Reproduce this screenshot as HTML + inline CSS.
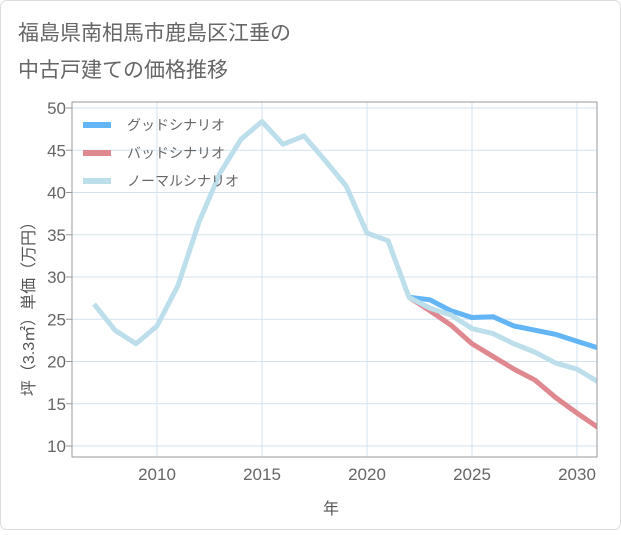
<!DOCTYPE html>
<html><head><meta charset="utf-8"><style>
body{margin:0;background:#fff;}
svg text{font-family:"Liberation Sans","Noto Sans CJK JP",sans-serif;}
</style></head><body>
<svg width="621" height="530" xmlns="http://www.w3.org/2000/svg">
<rect x="0.5" y="0.5" width="620" height="529" rx="6" fill="#fff" stroke="#ddd"/>
<text x="18" y="40" font-size="21" fill="#666">福島県南相馬市鹿島区江垂の</text>
<text x="18" y="77" font-size="21" fill="#666">中古戸建ての価格推移</text>
<g id="grid"></g>
<g id="series"></g>
<rect x="72" y="102" width="525" height="355" fill="none" stroke="#999"/>
<g id="ticks"></g>
<text x="331" y="514" font-size="16" fill="#555" text-anchor="middle">年</text>
<text transform="translate(34,305) rotate(-90)" font-size="16" fill="#555" text-anchor="middle">坪（3.3㎡）単価（万円）</text>
<g>
<line x1="83" y1="125" x2="111" y2="125" stroke="#64b5f6" stroke-width="6"/>
<text x="127" y="130" font-size="14" fill="#666">グッドシナリオ</text>
<line x1="83" y1="153" x2="111" y2="153" stroke="#e08890" stroke-width="6"/>
<text x="127" y="158" font-size="14" fill="#666">バッドシナリオ</text>
<line x1="83" y1="181" x2="111" y2="181" stroke="#bcdfeb" stroke-width="6"/>
<text x="127" y="186" font-size="14" fill="#666">ノーマルシナリオ</text>
</g>
</svg>
<script>
const normalYears=[2007,2008,2009,2010,2011,2012,2013,2014,2015,2016,2017,2018,2019,2020,2021,2022,2023,2024,2025,2026,2027,2028,2029,2030,2031];
const normalValues=[26.8,23.7,22.1,24.2,29,36.5,42.3,46.3,48.4,45.7,46.7,43.8,40.8,35.2,34.3,27.6,26.3,25.5,23.9,23.3,22.1,21.1,19.8,19.1,17.6];
const forecastYears=[2022,2023,2024,2025,2026,2027,2028,2029,2030,2031];
const goodValues=[27.6,27.3,26.0,25.2,25.3,24.2,23.7,23.2,22.4,21.6];
const badValues=[27.6,26.0,24.3,22.1,20.6,19.1,17.8,15.7,13.9,12.2];
const xTicks=[2010,2015,2020,2025,2030];
const yTicks=[10,15,20,25,30,35,40,45,50];
const NS="http://www.w3.org/2000/svg";
const xs=v=>157+(v-2010)*21;
const ys=v=>446-(v-10)*(338/40);
function mk(tag,attrs,parent){const e=document.createElementNS(NS,tag);for(const k in attrs)e.setAttribute(k,attrs[k]);parent.appendChild(e);return e;}
const grid=document.getElementById('grid'),ticks=document.getElementById('ticks'),ser=document.getElementById('series');
xTicks.forEach(t=>{const l=mk('line',{x1:xs(t),x2:xs(t),y1:102,y2:457,stroke:'#d3e3ee'},grid);


const tx=mk('text',{x:xs(t),y:480,'font-size':17,fill:'#666','text-anchor':'middle'},ticks);tx.textContent=t;

});
yTicks.forEach(t=>{const l=mk('line',{x1:72,x2:597,y1:ys(t),y2:ys(t),stroke:'#d3e3ee'},grid);


mk('line',{x1:66,x2:72,y1:ys(t),y2:ys(t),stroke:'#999'},ticks);
const tx=mk('text',{x:66,y:ys(t)+6,'font-size':17,fill:'#666','text-anchor':'end'},ticks);tx.textContent=t;

});
const clip=mk('clipPath',{id:'pc'},ser);mk('rect',{x:72,y:102,width:525,height:355},clip);
function line(xsA,vals,color,name){const p=mk('polyline',{points:xsA.map((x,i)=>xs(x)+','+ys(vals[i])).join(' '),fill:'none',stroke:color,'stroke-width':5,'stroke-linejoin':'round','clip-path':'url(#pc)'},ser);

}
line(forecastYears,goodValues,'#64b5f6','good-scenario-line');
line(forecastYears,badValues,'#e08890','bad-scenario-line');
line(normalYears,normalValues,'#bcdfeb','normal-scenario-line');
</script>
</body></html>
